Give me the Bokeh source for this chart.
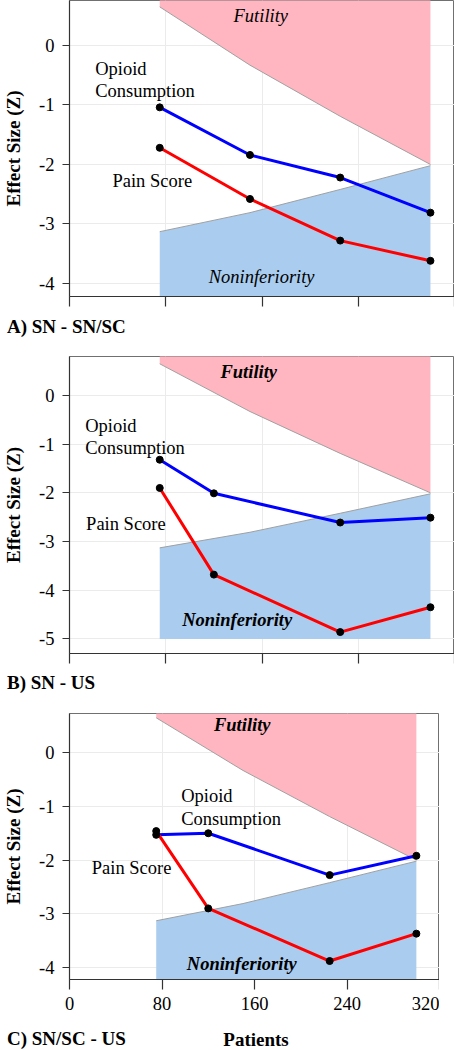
from bokeh.plotting import figure
from bokeh.layouts import column
from bokeh.models import Label, FixedTicker, Range1d, Div, CustomLabelingPolicy
from bokeh.embed import file_html
from bokeh.resources import INLINE

# interim looks (patients) and stopping boundaries (Z)
looks = [75, 150, 225, 300]
futility = [0.65, -0.33, -1.19, -2.0]
noninferiority = [-3.13, -2.81, -2.42, -2.02]

# A) SN - SN/SC
a_x = [75, 150, 225, 300]
a_opioid = [-1.04, -1.84, -2.22, -2.81]
a_pain = [-1.72, -2.58, -3.28, -3.62]

# B) SN - US
b_x = [75, 120, 225, 300]
b_opioid = [-1.32, -2.01, -2.61, -2.51]
b_pain = [-1.90, -3.68, -4.86, -4.35]

# C) SN/SC - US
c_x = [75, 120, 225, 300]
c_opioid = [-1.53, -1.50, -2.28, -1.92]
c_pain = [-1.46, -2.90, -3.88, -3.37]

x_ticks = [0, 80, 160, 240, 320]
a_yticks = [0, -1, -2, -3, -4]
b_yticks = [0, -1, -2, -3, -4, -5]
c_yticks = [0, -1, -2, -3, -4]

FONT = "Liberation Serif"
PINK = "#FFB6C1"
LBLUE = "#AACCEE"
FS = "18.5px"


def panel(xs, opioid, pain, yr, yticks, ni_bottom, frame_w, frame_h,
          b_top, b_bottom, x_end, show_xlabels):
    p = figure(output_backend="svg", toolbar_location=None,
               frame_width=frame_w, frame_height=frame_h,
               x_range=Range1d(0, x_end), y_range=Range1d(*yr),
               min_border_left=69, min_border_right=0,
               min_border_top=b_top, min_border_bottom=b_bottom)
    p.background_fill_color = "white"
    p.border_fill_color = "white"
    p.outline_line_color = "#707070"
    p.outline_line_width = 1

    top = yr[1] + 1
    p.patch(looks + [looks[-1], looks[0]], futility + [top, top],
            fill_color=PINK, line_color=None)
    p.patch(looks + [looks[-1], looks[0]], noninferiority + [ni_bottom, ni_bottom],
            fill_color=LBLUE, line_color=None)
    p.line(looks, futility, line_color="#a0a0a0", line_width=1)
    p.line(looks, noninferiority, line_color="#a0a0a0", line_width=1)

    p.line(xs, opioid, line_color="#0000FF", line_width=3)
    p.line(xs, pain, line_color="#FF0000", line_width=3)
    p.scatter(xs, opioid, size=7, fill_color="black", line_color="black")
    p.scatter(xs, pain, size=7, fill_color="black", line_color="black")

    p.xaxis.ticker = FixedTicker(ticks=x_ticks)
    p.yaxis.ticker = FixedTicker(ticks=yticks)
    p.xgrid.ticker = FixedTicker(ticks=x_ticks)
    p.ygrid.ticker = FixedTicker(ticks=yticks)
    p.yaxis.major_label_overrides = {t: str(t) for t in yticks}
    p.grid.grid_line_color = "#ebebeb"
    p.grid.grid_line_width = 1

    for ax in (p.xaxis[0], p.yaxis[0]):
        ax.axis_line_color = "#333333"
        ax.axis_line_width = 1.2
        ax.major_tick_line_color = "#333333"
        ax.major_tick_line_width = 1.2
        ax.minor_tick_line_color = None
        ax.major_tick_in = 0
        ax.major_label_text_font = FONT
        ax.major_label_text_font_size = FS
        ax.major_label_text_color = "black"
    p.yaxis.major_tick_out = 7
    p.yaxis.major_label_standoff = 8
    p.yaxis.axis_label = "Effect Size (Z)"
    p.yaxis.axis_label_text_font = FONT
    p.yaxis.axis_label_text_font_size = "19px"
    p.yaxis.axis_label_text_font_style = "bold"
    p.yaxis.axis_label_text_color = "black"
    p.yaxis.axis_label_standoff = 12
    p.xaxis.major_tick_out = 10
    p.xaxis.major_label_standoff = 7
    if not show_xlabels:
        # tick marks only: no tick labels drawn on panels A and B
        p.xaxis.major_label_text_font_size = "1px"
        p.xaxis.major_label_standoff = 0
        p.xaxis.major_label_policy = CustomLabelingPolicy(code="""
            for (const i of indices) { indices.unset(i) }
            return indices
        """)
    return p


def add_text(p, x, y, text, style="normal", align="left", size=FS):
    p.add_layout(Label(x=x, y=y, text=text, text_font=FONT, text_font_size=size,
                       text_font_style=style, text_align=align,
                       text_baseline="middle", text_color="black"))


def caption(html, h):
    return Div(text=html, width=455, height=h, margin=(0, 0, 0, 0),
               styles={"font-family": "'Liberation Serif', serif",
                       "font-weight": "bold", "font-size": "19px",
                       "color": "black"})


# Panel A
pa = panel(a_x, a_opioid, a_pain, (-4.22, 0.757), a_yticks, -6.0, 385, 296, 0, 18, 320, False)
add_text(pa, 159, 0.49, "Futility", "italic", "center")
add_text(pa, 21.3, -0.39, "Opioid")
add_text(pa, 21.3, -0.77, "Consumption")
add_text(pa, 35.7, -2.27, "Pain Score")
add_text(pa, 159.7, -3.90, "Noninferiority", "italic", "center")
cap_a = caption('<div style="position:relative;width:455px;height:26px;">'
                '<span style="position:absolute;left:7px;top:0px;line-height:26px;">A) SN - SN/SC</span></div>', 26)

# Panel B
pb = panel(b_x, b_opioid, b_pain, (-5.30, 0.80), b_yticks, -5.0, 385, 297, 16, 18, 320, False)
add_text(pb, 149, 0.48, "Futility", "bold italic", "center")
add_text(pb, 13, -0.62, "Opioid")
add_text(pb, 13, -1.08, "Consumption")
add_text(pb, 13.8, -2.64, "Pain Score")
add_text(pb, 139.4, -4.62, "Noninferiority", "bold italic", "center")
cap_b = caption('<div style="position:relative;width:455px;height:24px;">'
                '<span style="position:absolute;left:7px;top:0px;line-height:24px;">B) SN - US</span></div>', 24)

# Panel C
pc = panel(c_x, c_opioid, c_pain, (-4.224, 0.73), c_yticks, -6.0, 370, 266, 18, 48, 320, True)
add_text(pc, 149.4, 0.51, "Futility", "bold italic", "center")
add_text(pc, 96.6, -0.81, "Opioid")
add_text(pc, 96.6, -1.23, "Consumption")
add_text(pc, 19.3, -2.14, "Pain Score")
add_text(pc, 149, -3.93, "Noninferiority", "bold italic", "center")
cap_c = caption('<div style="position:relative;width:455px;height:22px;">'
                '<span style="position:absolute;left:7px;top:1px;line-height:22px;">C) SN/SC - US</span>'
                '<span style="position:absolute;left:256px;top:2px;line-height:22px;transform:translateX(-50%);">Patients</span>'
                '</div>', 22)

layout = column(pa, cap_a, pb, cap_b, pc, cap_c, spacing=0)
open("out.html", "w").write(file_html(layout, INLINE))
